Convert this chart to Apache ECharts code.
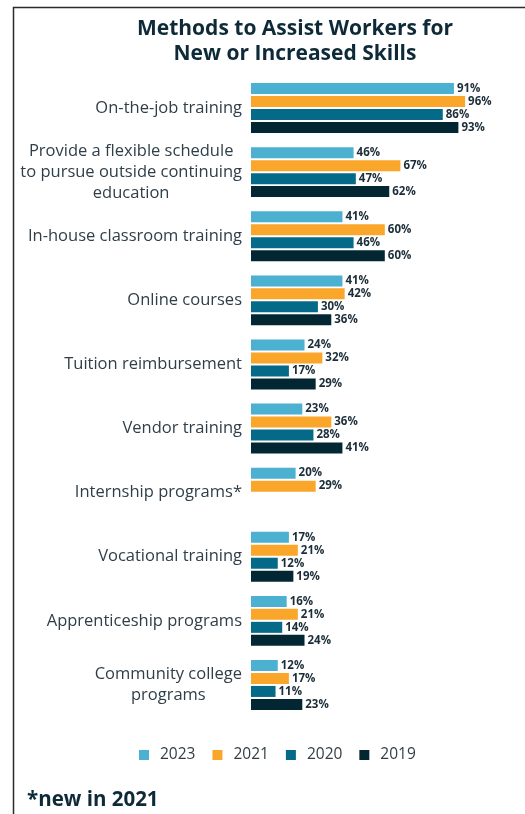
<!DOCTYPE html>
<html>
<head>
<meta charset="utf-8">
<script src="https://cdn.jsdelivr.net/npm/echarts@6/dist/echarts.min.js"></script>
<style>
  html, body { margin: 0; padding: 0; background: #fff; }
  #chart { width: 525px; height: 814px; }
</style>
</head>
<body>
<div id="chart"></div>
<script>
  // categories, top to bottom
  var categories = [
    'On-the-job training',
    'Provide a flexible schedule\nto pursue outside continuing\neducation',
    'In-house classroom training',
    'Online courses',
    'Tuition reimbursement',
    'Vendor training',
    'Internship programs*',
    'Vocational training',
    'Apprenticeship programs',
    'Community college\nprograms'
  ];
  var years = ['2023', '2021', '2020', '2019'];
  var v2023 = [91, 46, 41, 41, 24, 23, 20, 17, 16, 12];
  var v2021 = [96, 67, 60, 42, 32, 36, 29, 21, 21, 17];
  var v2020 = [86, 47, 46, 30, 17, 28, null, 12, 14, 11];
  var v2019 = [93, 62, 60, 36, 29, 41, null, 19, 24, 23];

  var colors = ['#4cb0d0', '#f9a62a', '#046a88', '#022733'];
  var font = '"Open Sans", sans-serif';

  var chart = echarts.init(document.getElementById('chart'));

  function bar(name, data) {
    return {
      name: name,
      type: 'bar',
      data: data,
      barWidth: 11,
      barGap: '18%',
      label: {
        show: true,
        position: 'right',
        distance: 3,
        formatter: '{c}%',
        fontFamily: font,
        fontWeight: 'bold',
        fontSize: 11.5,
        color: '#1b2d38'
      }
    };
  }

  chart.setOption({
    color: colors,
    animation: false,
    title: {
      text: 'Methods to Assist Workers for\nNew or Increased Skills',
      left: 290,
      top: 12,
      textAlign: 'center',
      textStyle: {
        fontFamily: font,
        fontWeight: 'bold',
        fontSize: 21,
        lineHeight: 25,
        color: '#0e2a38'
      }
    },
    legend: {
      data: years,
      left: 139,
      top: 747,
      padding: 0,
      icon: 'rect',
      itemWidth: 10,
      itemHeight: 10,
      itemGap: 17,
      textStyle: {
        fontFamily: font,
        fontSize: 15.5,
        color: '#333d44',
        padding: [0, 0, 0, 6]
      }
    },
    grid: {left: 251, right: 51, top: 76, height: 641},
    xAxis: {
      type: 'value',
      min: 0,
      max: 100,
      show: false
    },
    yAxis: {
      type: 'category',
      data: categories,
      inverse: true,
      axisLine: {show: false},
      axisTick: {show: false},
      axisLabel: {
        margin: 9,
        formatter: function (v) {
          return v.split('\n').map(function (s) { return '{c|' + s + '}'; }).join('\n');
        },
        rich: {
          c: {
            align: 'center',
            fontFamily: font,
            fontSize: 16.5,
            lineHeight: 21,
            color: '#2f3e48'
          }
        }
      }
    },
    series: [
      bar('2023', v2023),
      bar('2021', v2021),
      bar('2020', v2020),
      bar('2019', v2019)
    ],
    graphic: [
      {
        type: 'rect',
        shape: {x: 13.5, y: 7.5, width: 700, height: 900},
        style: {fill: 'none', stroke: '#2b2b2b', lineWidth: 1.5},
        silent: true
      },
      {
        type: 'text',
        left: 27,
        top: 790,
        style: {
          text: '*new in 2021',
          fontFamily: font,
          fontWeight: 'bold',
          fontSize: 20.5,
          fill: '#0e2a38'
        }
      }
    ]
  });
</script>
</body>
</html>
